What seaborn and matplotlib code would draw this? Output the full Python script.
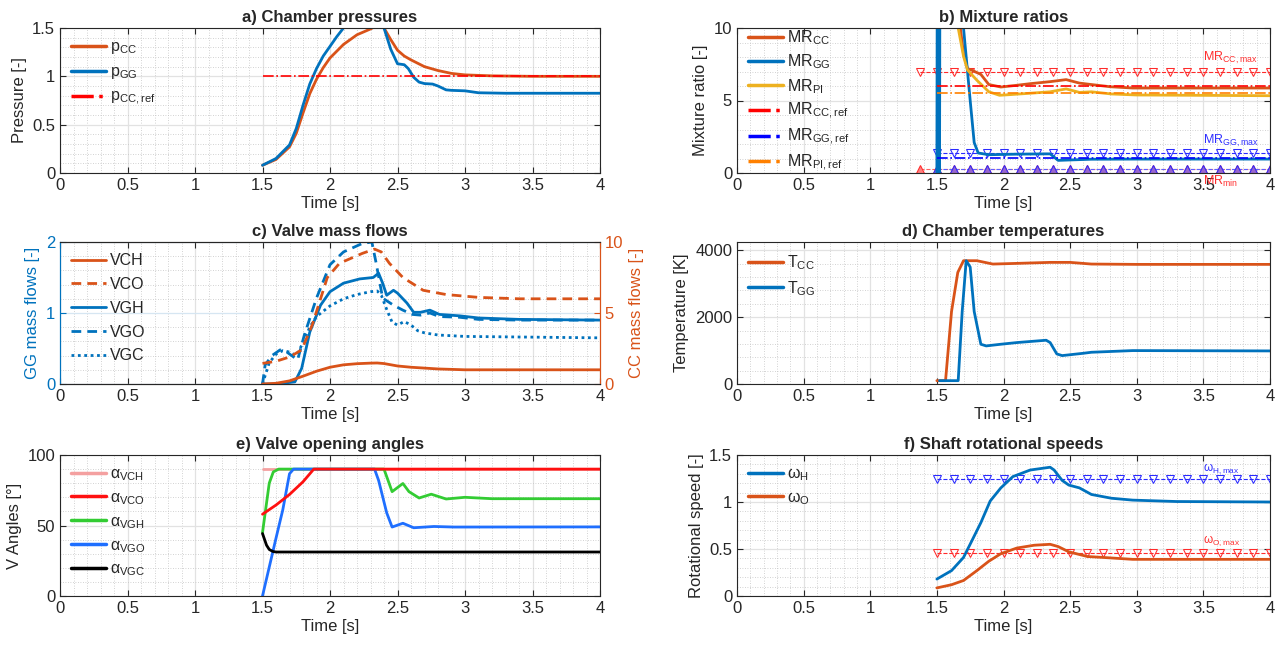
import numpy as np
import matplotlib
matplotlib.use("Agg")
import matplotlib.pyplot as plt
from matplotlib.ticker import MultipleLocator
import seaborn as sns

# matlab default colours
C_OR = "#D95319"
C_BL = "#0072BD"
C_YE = "#EDB120"

# a) chamber pressures
t_pcc = [1.5, 1.6, 1.7, 1.75, 1.8, 1.85, 1.9, 1.95, 2.0, 2.1, 2.2, 2.3, 2.34, 2.38, 2.4,
         2.45, 2.5, 2.55, 2.6, 2.7, 2.8, 2.9, 3.0, 3.2, 3.5, 4.0]
p_cc = [0.08, 0.14, 0.27, 0.41, 0.62, 0.82, 0.97, 1.09, 1.19, 1.33, 1.43, 1.49, 1.52, 1.54, 1.5,
        1.38, 1.27, 1.21, 1.17, 1.1, 1.06, 1.03, 1.015, 1.005, 1.0, 1.0]
t_pgg = [1.5, 1.6, 1.7, 1.75, 1.8, 1.85, 1.9, 1.95, 2.0, 2.05, 2.1, 2.15, 2.3, 2.38, 2.4, 2.45,
         2.5, 2.55, 2.58, 2.62, 2.66, 2.7, 2.76, 2.8, 2.86, 2.9, 3.0, 3.1, 3.3, 4.0]
p_gg = [0.08, 0.15, 0.29, 0.46, 0.7, 0.92, 1.08, 1.21, 1.31, 1.41, 1.5, 1.56, 1.6, 1.56, 1.5, 1.28,
        1.13, 1.12, 1.08, 0.99, 0.94, 0.925, 0.92, 0.9, 0.86, 0.855, 0.85, 0.83, 0.825, 0.825]
t_ref = [1.5, 4.0]
p_cc_ref = [1.0, 1.0]

# b) mixture ratios
t_mrcc = [1.65, 1.7, 1.73, 1.76, 1.83, 1.89, 1.98, 2.1, 2.2, 2.35, 2.47, 2.57, 2.66, 2.8, 2.97, 3.5, 4.0]
mr_cc = [12.0, 8.2, 7.2, 7.1, 6.8, 6.1, 5.93, 6.05, 6.16, 6.3, 6.44, 6.2, 6.1, 5.95, 5.86, 5.86, 5.86]
t_mrpi = [1.6, 1.66, 1.7, 1.73, 1.8, 1.89, 1.97, 2.04, 2.2, 2.35, 2.47, 2.57, 2.66, 2.81, 3.0, 4.0]
mr_pi = [14.0, 10.0, 8.05, 7.1, 6.4, 5.6, 5.36, 5.4, 5.5, 5.6, 5.8, 5.56, 5.6, 5.45, 5.38, 5.33]
t_mrgg = [1.5, 1.505, 1.51, 1.515, 1.52, 1.525, 1.53, 1.6, 1.7, 1.75, 1.78, 1.81, 1.89, 2.1,
          2.35, 2.41, 2.5, 2.66, 3.0, 4.0]
mr_gg = [0.0, 25.0, 0.0, 25.0, 0.0, 25.0, 14.0, 12.0, 10.0, 5.0, 2.1, 1.38, 1.26, 1.3,
         1.32, 0.87, 0.9, 0.95, 0.96, 0.96]
mr_cc_ref = [6.0, 6.0]
mr_gg_ref = [1.05, 1.05]
mr_pi_ref = [5.55, 5.55]
t_lim_red = [1.375, 1.5, 1.625, 1.75, 1.875, 2.0, 2.125, 2.25, 2.375, 2.5, 2.625, 2.75,
             2.875, 3.0, 3.125, 3.25, 3.375, 3.5, 3.625, 3.75, 3.875, 4.0]
t_lim_blue = [1.5, 1.625, 1.75, 1.875, 2.0, 2.125, 2.25, 2.375, 2.5, 2.625, 2.75,
              2.875, 3.0, 3.125, 3.25, 3.375, 3.5, 3.625, 3.75, 3.875, 4.0]
mr_cc_max = 7.0
mr_gg_max = 1.4
mr_min = 0.3

# c) valve mass flows (VCH, VCO on CC axis, others on GG axis)
t_vch = [1.5, 1.6, 1.7, 1.8, 1.9, 2.0, 2.1, 2.2, 2.3, 2.35, 2.4, 2.5, 2.6, 2.8, 3.0, 4.0]
m_vch = [0.0, 0.05, 0.22, 0.55, 0.9, 1.18, 1.35, 1.43, 1.47, 1.48, 1.44, 1.27, 1.18, 1.06, 1.0, 1.0]
t_vco = [1.5, 1.6, 1.7, 1.79, 1.87, 1.98, 2.07, 2.24, 2.33, 2.38, 2.44, 2.54, 2.69, 2.86, 3.1, 3.4, 4.0]
m_vco = [1.45, 1.6, 1.9, 2.4, 4.2, 7.5, 8.5, 9.2, 9.5, 9.3, 8.5, 7.5, 6.6, 6.3, 6.1, 6.0, 6.0]
t_vgh = [1.5, 1.6, 1.74, 1.79, 1.85, 1.93, 2.0, 2.1, 2.22, 2.32, 2.36, 2.39, 2.42, 2.47, 2.5,
         2.57, 2.62, 2.67, 2.74, 2.81, 2.96, 3.1, 3.4, 4.0]
m_vgh = [0.0, 0.0, 0.03, 0.22, 0.73, 1.11, 1.3, 1.42, 1.48, 1.5, 1.56, 1.42, 1.25, 1.32, 1.28,
         1.14, 1.01, 1.01, 1.04, 0.98, 0.96, 0.93, 0.91, 0.9]
t_vgo = [1.5, 1.52, 1.57, 1.63, 1.68, 1.76, 1.81, 1.9, 2.0, 2.1, 2.24, 2.31, 2.34, 2.39, 2.47,
         2.54, 2.61, 2.67, 2.74, 2.81, 2.96, 3.1, 3.4, 4.0]
m_vgo = [0.0, 0.27, 0.4, 0.48, 0.45, 0.34, 0.69, 1.21, 1.68, 1.86, 1.98, 2.0, 1.72, 1.21, 1.11,
         1.04, 0.98, 0.97, 1.0, 0.95, 0.94, 0.91, 0.9, 0.9]
t_vgc = [1.5, 1.55, 1.6, 1.65, 1.7, 1.75, 1.8, 1.85, 1.9, 2.0, 2.1, 2.2, 2.3, 2.35, 2.38,
         2.42, 2.46, 2.5, 2.55, 2.6, 2.65, 2.7, 2.8, 3.0, 4.0]
m_vgc = [0.0, 0.3, 0.42, 0.47, 0.45, 0.4, 0.58, 0.8, 0.95, 1.1, 1.2, 1.26, 1.3, 1.31, 1.25,
         1.05, 0.87, 0.83, 0.88, 0.83, 0.75, 0.72, 0.69, 0.67, 0.65]

# d) chamber temperatures
t_tcc = [1.5, 1.565, 1.61, 1.657, 1.7, 1.8, 1.92, 2.1, 2.35, 2.5, 2.66, 3.0, 4.0]
T_cc = [100, 100, 2170, 3340, 3690, 3690, 3590, 3610, 3640, 3640, 3590, 3580, 3580]
t_tgg = [1.52, 1.66, 1.69, 1.72, 1.75, 1.78, 1.83, 1.87, 1.98, 2.1, 2.32, 2.35, 2.4, 2.44,
         2.6, 2.66, 2.97, 4.0]
T_gg = [100, 100, 2170, 3690, 3500, 2170, 1190, 1140, 1190, 1240, 1310, 1240, 900, 850,
        920, 950, 1000, 990]

# e) valve opening angles
t_vch_a = [1.5, 4.0]
a_vch = [90, 90]
t_vco_a = [1.5, 1.6, 1.7, 1.8, 1.88, 4.0]
a_vco = [58, 64.5, 72, 81, 90, 90]
t_vgh_a = [1.5, 1.55, 1.58, 1.62, 2.38, 2.4, 2.46, 2.54, 2.585, 2.66, 2.75, 2.86, 3.0, 3.2, 4.0]
a_vgh = [45, 80, 88, 90, 90, 90, 74, 79.8, 74, 69.5, 72.2, 68.8, 70, 69, 69]
t_vgo_a = [1.5, 1.6, 1.65, 1.7, 1.73, 2.33, 2.36, 2.42, 2.46, 2.54, 2.62, 2.77, 2.92, 4.0]
a_vgo = [0, 41, 61, 86.7, 90, 90, 82, 59, 48.9, 51.6, 48.4, 49.3, 48.9, 49]
t_vgc_a = [1.5, 1.53, 1.55, 1.576, 1.6, 4.0]
a_vgc = [44.3, 36, 33, 31.6, 31.2, 31.2]

# f) shaft rotational speeds
t_wh = [1.5, 1.61, 1.7, 1.76, 1.83, 1.9, 1.98, 2.07, 2.2, 2.35, 2.38, 2.44, 2.49, 2.57, 2.66,
        2.81, 2.97, 3.3, 4.0]
w_h = [0.18, 0.27, 0.41, 0.58, 0.78, 1.01, 1.15, 1.27, 1.34, 1.37, 1.34, 1.23, 1.18, 1.15, 1.08,
       1.04, 1.02, 1.005, 1.0]
t_wo = [1.5, 1.61, 1.7, 1.8, 1.89, 1.98, 2.1, 2.23, 2.35, 2.41, 2.49, 2.63, 2.75, 2.97, 4.0]
w_o = [0.086, 0.12, 0.165, 0.27, 0.37, 0.45, 0.51, 0.54, 0.55, 0.526, 0.47, 0.42, 0.41, 0.39, 0.39]
w_h_max = 1.24
w_o_max = 0.46

sns.set_style("ticks")
plt.rcParams["font.family"] = ["Liberation Sans", "DejaVu Sans"]
plt.rcParams["mathtext.default"] = "regular"
plt.rcParams["axes.edgecolor"] = "#262626"
plt.rcParams["xtick.color"] = "#262626"
plt.rcParams["ytick.color"] = "#262626"
plt.rcParams["text.color"] = "#262626"
plt.rcParams["axes.labelcolor"] = "#262626"

fig = plt.figure(figsize=(12.85, 6.5), dpi=100)
W, H = 1285, 650


def make_ax(l, r, top, bot):
    return fig.add_axes([l / W, (H - bot) / H, (r - l) / W, (bot - top) / H])


ax_a = make_ax(60, 600, 28, 173)
ax_b = make_ax(737, 1270, 28, 173)
ax_c = make_ax(60, 600, 242, 384)
ax_d = make_ax(737, 1270, 242, 384)
ax_e = make_ax(60, 600, 455, 596)
ax_f = make_ax(737, 1270, 455, 596)


def style(ax, ylim, ymaj, ymin, title, ylabel):
    ax.set_xlim(0, 4)
    ax.set_ylim(*ylim)
    ax.xaxis.set_major_locator(MultipleLocator(0.5))
    ax.xaxis.set_minor_locator(MultipleLocator(0.1))
    ax.yaxis.set_major_locator(MultipleLocator(ymaj))
    ax.yaxis.set_minor_locator(MultipleLocator(ymin))
    ax.xaxis.set_major_formatter(plt.FuncFormatter(lambda v, p: f"{v:g}"))
    ax.yaxis.set_major_formatter(plt.FuncFormatter(lambda v, p: f"{v:g}"))
    ax.grid(True, which="major", color="#e2e2e2", lw=0.9)
    ax.grid(True, which="minor", color="#c4c4c4", lw=0.6, ls=(0, (1, 2)))
    ax.set_axisbelow(True)
    ax.tick_params(which="major", direction="in", length=4, labelsize=12, top=True, right=True)
    ax.tick_params(which="minor", length=0)
    for s in ax.spines.values():
        s.set_linewidth(0.8)
    ax.set_title(title, fontsize=12, fontweight="bold", pad=4)
    ax.set_xlabel("Time [s]", fontsize=12, labelpad=2)
    ax.set_ylabel(ylabel, fontsize=12, labelpad=4)


def leg(ax, handles=None, labels=None, spacing=0.55, anchor=(0, 1)):
    kw = dict(loc="upper left", frameon=False, fontsize=11.5, handlelength=2.2,
              labelspacing=spacing, borderaxespad=0.3, handletextpad=0.2,
              bbox_to_anchor=anchor)
    if handles is None:
        ax.legend(**kw)
    else:
        ax.legend(handles, labels, **kw)


# a)
sns.lineplot(x=t_pcc, y=p_cc, ax=ax_a, color=C_OR, lw=2, label="$p_{CC}$")
sns.lineplot(x=t_pgg, y=p_gg, ax=ax_a, color=C_BL, lw=2, label="$p_{GG}$")
sns.lineplot(x=t_ref, y=p_cc_ref, ax=ax_a, color="red", lw=1.2, ls="-.", label="$p_{CC,ref}$")
style(ax_a, (0, 1.5), 0.5, 0.1, "a) Chamber pressures", "Pressure [-]")
leg(ax_a, spacing=0.5)
for l in ax_a.get_legend().get_lines():
    l.set_linewidth(2.5)

# b)
n_r = len(t_lim_red)
n_b = len(t_lim_blue)
sns.lineplot(x=t_lim_red, y=[mr_cc_max] * n_r, ax=ax_b, color="#ff2a2a", lw=0.8, ls="--",
             marker="v", markersize=6, markerfacecolor="none", markeredgecolor="#ff2a2a")
sns.lineplot(x=t_lim_blue, y=[mr_gg_max] * n_b, ax=ax_b, color="#2a2aff", lw=0.8, ls="--",
             marker="v", markersize=6, markerfacecolor="none", markeredgecolor="#2a2aff")
sns.lineplot(x=t_lim_red, y=[mr_min] * n_r, ax=ax_b, color="#ff6060", lw=0.8, ls="--",
             marker="^", markersize=6, markerfacecolor="#ff8080", markeredgecolor="#ff2a2a")
sns.lineplot(x=t_lim_blue, y=[mr_min] * n_b, ax=ax_b, color="#6060ff", lw=0.8, ls="--",
             marker="^", markersize=6, markerfacecolor="#9966cc", markeredgecolor="#2a2aff")
h_cc = sns.lineplot(x=t_mrcc, y=mr_cc, ax=ax_b, color=C_OR, lw=2).get_lines()[-1]
h_gg = sns.lineplot(x=t_mrgg, y=mr_gg, ax=ax_b, color=C_BL, lw=2, sort=False).get_lines()[-1]
h_pi = sns.lineplot(x=t_mrpi, y=mr_pi, ax=ax_b, color=C_YE, lw=2).get_lines()[-1]
h_ccr = sns.lineplot(x=t_ref, y=mr_cc_ref, ax=ax_b, color="red", lw=1.2, ls="-.").get_lines()[-1]
h_ggr = sns.lineplot(x=t_ref, y=mr_gg_ref, ax=ax_b, color="blue", lw=1.2, ls="-.").get_lines()[-1]
h_pir = sns.lineplot(x=t_ref, y=mr_pi_ref, ax=ax_b, color="#ff8000", lw=1.2, ls="-.").get_lines()[-1]
style(ax_b, (0, 10), 5, 1, "b) Mixture ratios", "Mixture ratio [-]")
leg(ax_b, [h_cc, h_gg, h_pi, h_ccr, h_ggr, h_pir],
    ["$MR_{CC}$", "$MR_{GG}$", "$MR_{PI}$", "$MR_{CC,ref}$", "$MR_{GG,ref}$", "$MR_{PI,ref}$"],
    spacing=0.35, anchor=(0, 1.075))
for l in ax_b.get_legend().get_lines():
    l.set_linewidth(2.5)
ax_b.text(3.5, 7.75, "$MR_{CC,max}$", color="#ff3030", fontsize=9)
ax_b.text(3.5, 2.05, "$MR_{GG,max}$", color="#3030ff", fontsize=9)
ax_b.text(3.5, -0.08, "$MR_{min}$", color="#ff3030", fontsize=9, va="top", clip_on=False)

# c)
ax_c2 = ax_c.twinx()
sns.lineplot(x=t_vgh, y=m_vgh, ax=ax_c, color=C_BL, lw=2)
sns.lineplot(x=t_vgo, y=m_vgo, ax=ax_c, color=C_BL, lw=2, ls=(0, (3.5, 2.2)))
sns.lineplot(x=t_vgc, y=m_vgc, ax=ax_c, color=C_BL, lw=2, ls=(0, (1, 1.3)))
sns.lineplot(x=t_vch, y=m_vch, ax=ax_c2, color=C_OR, lw=2)
sns.lineplot(x=t_vco, y=m_vco, ax=ax_c2, color=C_OR, lw=2, ls=(0, (3.5, 2.2)))
style(ax_c, (0, 2), 1, 0.2, "c) Valve mass flows", "GG mass flows [-]")
ax_c.grid(True, which="major", axis="y", color="#d6e6f2", lw=0.9)
ax_c2.set_ylim(0, 10)
ax_c2.yaxis.set_major_locator(MultipleLocator(5))
ax_c2.tick_params(direction="in", length=4, labelsize=12, colors=C_OR)
ax_c2.set_ylabel("CC mass flows [-]", fontsize=12, color=C_OR, labelpad=4)
ax_c.tick_params(axis="y", which="major", colors=C_BL, right=False)
ax_c.yaxis.label.set_color(C_BL)
ax_c2.spines["left"].set_color(C_BL)
ax_c2.spines["right"].set_color(C_OR)
ax_c.spines["left"].set_color(C_BL)
ax_c.spines["right"].set_color(C_OR)
hc = ax_c.get_lines()
hc2 = ax_c2.get_lines()
leg(ax_c2, [hc2[0], hc2[1], hc[0], hc[1], hc[2]], ["VCH", "VCO", "VGH", "VGO", "VGC"], spacing=0.55)

# d)
sns.lineplot(x=t_tcc, y=T_cc, ax=ax_d, color=C_OR, lw=2, label="$T_{CC}$")
sns.lineplot(x=t_tgg, y=T_gg, ax=ax_d, color=C_BL, lw=2, label="$T_{GG}$")
style(ax_d, (0, 4250), 2000, 400, "d) Chamber temperatures", "Temperature [K]")
leg(ax_d, spacing=0.45)
for l in ax_d.get_legend().get_lines():
    l.set_linewidth(2.5)

# e)
sns.lineplot(x=t_vch_a, y=a_vch, ax=ax_e, color="#f4a0a0", lw=2)
sns.lineplot(x=t_vgh_a, y=a_vgh, ax=ax_e, color="#33cc33", lw=2)
sns.lineplot(x=t_vgo_a, y=a_vgo, ax=ax_e, color="#1f6fff", lw=2)
sns.lineplot(x=t_vco_a, y=a_vco, ax=ax_e, color="#ff1010", lw=2)
sns.lineplot(x=t_vgc_a, y=a_vgc, ax=ax_e, color="black", lw=2)
style(ax_e, (0, 100), 50, 10, "e) Valve opening angles", "V Angles [°]")
he = ax_e.get_lines()
leg(ax_e, [he[0], he[3], he[1], he[2], he[4]],
    [r"$\alpha_{VCH}$", r"$\alpha_{VCO}$", r"$\alpha_{VGH}$", r"$\alpha_{VGO}$", r"$\alpha_{VGC}$"],
    spacing=0.45)
for l in ax_e.get_legend().get_lines():
    l.set_linewidth(2.5)

# f)
n_f = len(t_lim_blue)
sns.lineplot(x=t_lim_blue, y=[w_h_max] * n_f, ax=ax_f, color="#2a2aff", lw=0.8, ls="--",
             marker="v", markersize=6, markerfacecolor="none", markeredgecolor="#2a2aff")
sns.lineplot(x=t_lim_blue, y=[w_o_max] * n_f, ax=ax_f, color="#ff2a2a", lw=0.8, ls="--",
             marker="v", markersize=6, markerfacecolor="none", markeredgecolor="#ff2a2a")
h_wh = sns.lineplot(x=t_wh, y=w_h, ax=ax_f, color=C_BL, lw=2).get_lines()[-1]
h_wo = sns.lineplot(x=t_wo, y=w_o, ax=ax_f, color=C_OR, lw=2).get_lines()[-1]
style(ax_f, (0, 1.5), 0.5, 0.1, "f) Shaft rotational speeds", "Rotational speed [-]")
leg(ax_f, [h_wh, h_wo], [r"$\omega_H$", r"$\omega_O$"], spacing=0.45)
for l in ax_f.get_legend().get_lines():
    l.set_linewidth(2.5)
ax_f.text(3.5, 1.33, r"$\omega_{H,max}$", color="#3030ff", fontsize=8.5)
ax_f.text(3.5, 0.56, r"$\omega_{O,max}$", color="#ff3030", fontsize=8.5)

fig.savefig("out.png", dpi=100)
